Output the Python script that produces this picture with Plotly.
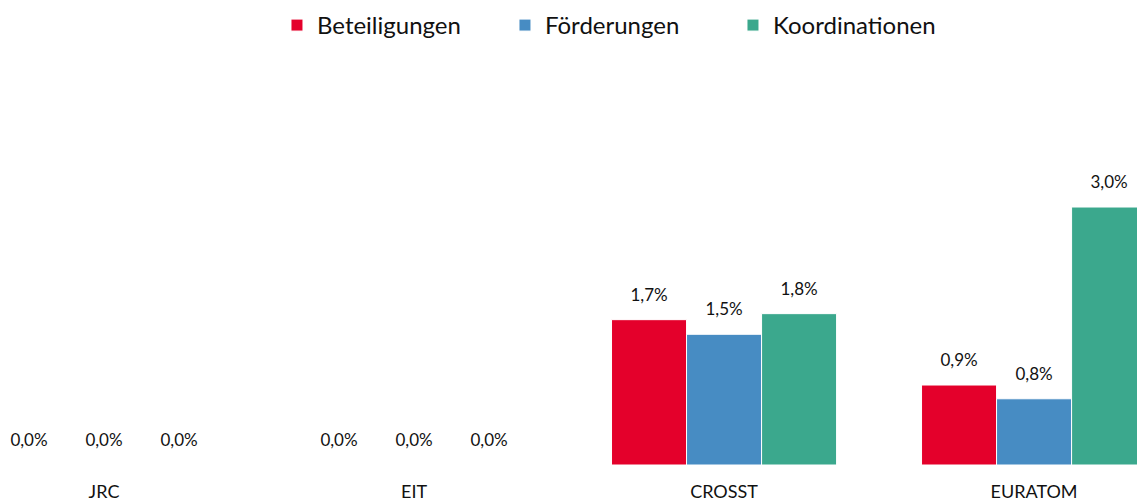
import plotly.graph_objects as go

categories = ["JRC", "EIT", "CROSST", "EURATOM"]
beteiligungen = [0.0, 0.0, 1.69, 0.93]
foerderungen = [0.0, 0.0, 1.52, 0.77]
koordinationen = [0.0, 0.0, 1.76, 3.0]

series = [
    ("Beteiligungen", beteiligungen, "#E4002B"),
    ("Förderungen", foerderungen, "#478CC3"),
    ("Koordinationen", koordinationen, "#3BA88D"),
]

FONT = "Lato, 'Open Sans', sans-serif"
TXT = "#111111"

fig = go.Figure()
for i, (name, vals, col) in enumerate(series):
    fig.add_trace(go.Bar(
        name=name, x=categories, y=vals, offsetgroup=str(i),
        marker=dict(color=col, line=dict(color="white", width=1)),
        hoverinfo="skip",
    ))
for i, (name, vals, col) in enumerate(series):
    fig.add_trace(go.Scatter(
        x=categories, y=vals, offsetgroup=str(i), mode="markers+text",
        marker=dict(size=22, opacity=0),
        texttemplate="%{y:.1f}%", textposition="top center",
        textfont=dict(size=17, color=TXT, family=FONT),
        showlegend=False, cliponaxis=False, hoverinfo="skip",
    ))

fig.update_layout(
    width=1137, height=503,
    barmode="group", bargap=0.274, bargroupgap=0,
    scattermode="group", scattergap=0.274,
    separators=",.",
    plot_bgcolor="white", paper_bgcolor="white",
    margin=dict(l=0, r=0, t=158, b=38, autoexpand=False),
    font=dict(family=FONT, color=TXT),
    showlegend=True,
    legend=dict(orientation="h", x=0.2436, xanchor="left", y=1.505, yref="paper",
                yanchor="top", font=dict(size=24, family=FONT, color=TXT),
                entrywidth=183, entrywidthmode="pixels", traceorder="normal"),
    xaxis=dict(range=[-0.3355, 3.332], showline=False, showgrid=False, zeroline=False,
               tickfont=dict(size=18, family=FONT, color=TXT), ticklabelstandoff=14),
    yaxis=dict(range=[0, 3.57], visible=False, showgrid=False, zeroline=False),
)

fig.write_html(
    "out.html",
    config={"displayModeBar": False},
    post_script="document.body.style.margin='0';document.body.style.overflow='hidden';",
)
